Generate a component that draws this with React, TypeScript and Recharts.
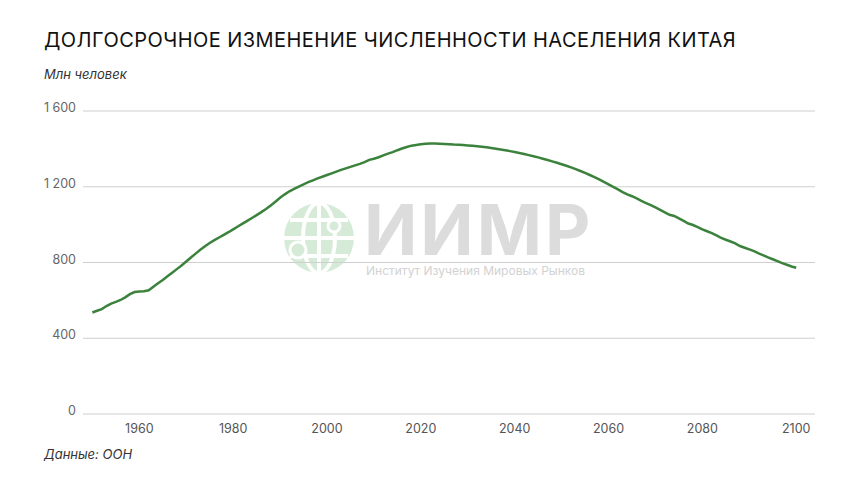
import {CartesianGrid, Line, LineChart, XAxis, YAxis} from "recharts";

const YEARS = [
  1950, 1951, 1952, 1953, 1954, 1955, 1956, 1957, 1958, 1959,
  1960, 1961, 1962, 1963, 1964, 1965, 1966, 1967, 1968, 1969,
  1970, 1971, 1972, 1973, 1974, 1975, 1976, 1977, 1978, 1979,
  1980, 1981, 1982, 1983, 1984, 1985, 1986, 1987, 1988, 1989,
  1990, 1991, 1992, 1993, 1994, 1995, 1996, 1997, 1998, 1999,
  2000, 2001, 2002, 2003, 2004, 2005, 2006, 2007, 2008, 2009,
  2010, 2011, 2012, 2013, 2014, 2015, 2016, 2017, 2018, 2019,
  2020, 2021, 2022, 2023, 2024, 2025, 2026, 2027, 2028, 2029,
  2030, 2031, 2032, 2033, 2034, 2035, 2036, 2037, 2038, 2039,
  2040, 2041, 2042, 2043, 2044, 2045, 2046, 2047, 2048, 2049,
  2050, 2051, 2052, 2053, 2054, 2055, 2056, 2057, 2058, 2059,
  2060, 2061, 2062, 2063, 2064, 2065, 2066, 2067, 2068, 2069,
  2070, 2071, 2072, 2073, 2074, 2075, 2076, 2077, 2078, 2079,
  2080, 2081, 2082, 2083, 2084, 2085, 2086, 2087, 2088, 2089,
  2090, 2091, 2092, 2093, 2094, 2095, 2096, 2097, 2098, 2099,
  2100,
];

// млн человек
const POPULATION = [
  536, 545, 554, 570, 583, 592, 602, 616, 633, 644,
  647, 648, 653, 672, 690, 708, 727, 746, 765, 784,
  805, 826, 847, 867, 886, 903, 918, 932, 946, 960,
  975, 990, 1005, 1020, 1035, 1050, 1066, 1083, 1101, 1121,
  1142, 1160, 1176, 1189, 1201, 1213, 1224, 1234, 1244, 1253,
  1262, 1271, 1280, 1289, 1297, 1305, 1313, 1321, 1330, 1342,
  1348, 1356, 1366, 1375, 1383, 1393, 1402, 1410, 1417, 1421,
  1424, 1427, 1428, 1428, 1427, 1426, 1425, 1423, 1422, 1420,
  1418, 1416, 1414, 1411, 1408, 1405, 1401, 1397, 1393, 1388,
  1383, 1378, 1373, 1367, 1361, 1355, 1348, 1341, 1334, 1327,
  1319, 1311, 1302, 1293, 1283, 1273, 1262, 1251, 1239, 1226,
  1213, 1199, 1186, 1172, 1160, 1150, 1138, 1125, 1114, 1103,
  1091, 1078, 1065, 1052, 1046, 1033, 1020, 1006, 998, 987,
  975, 965, 955, 943, 930, 920, 911, 901, 887, 878,
  869, 860, 848, 838, 827, 817, 807, 797, 788, 779,
  772,
];

const X_TICKS = [1960, 1980, 2000, 2020, 2040, 2060, 2080, 2100];
const Y_TICKS = [0, 400, 800, 1200, 1600];

const TITLE = "Долгосрочное изменение численности населения Китая";
const UNIT = "Млн человек";
const SOURCE = "Данные: ООН";

const FONT = "Inter, 'Noto Sans', sans-serif";
const LINE_COLOR = "#3b823c";

const data = YEARS.map((year, i) => ({year, value: POPULATION[i]}));

const fmt = (v: number) => v >= 1000 ? `${Math.floor(v / 1000)} ${String(v % 1000).padStart(3, "0")}` : String(v);

const YTick = ({x, y, payload}: any) =>
  <text x={x - 7} y={y + 1} textAnchor="end" fill="#666" fontSize={12.5} fontFamily={FONT}>
    {fmt(payload.value)}
  </text>;

const XTick = ({x, y, payload}: any) =>
  <text x={x} y={y + 19} textAnchor="middle" fill="#555" fontSize={12.5} fontFamily={FONT}>
    {payload.value}
  </text>;

const Watermark = () =>
  <svg width={860} height={484} style={{position: "absolute", left: 0, top: 0}}>
    <g>
      <circle cx={319} cy={238} r={35} fill="#d6ebd7"/>
      <line x1={319} y1={203} x2={319} y2={273} stroke="#fff" strokeWidth={4}/>
      <line x1={284} y1={238} x2={354} y2={238} stroke="#fff" strokeWidth={4}/>
      <ellipse cx={319} cy={238} rx={16} ry={35} fill="none" stroke="#fff" strokeWidth={4}/>
      <line x1={290} y1={220} x2={348} y2={220} stroke="#fff" strokeWidth={4}/>
      <line x1={290} y1={256} x2={348} y2={256} stroke="#fff" strokeWidth={4}/>
      <circle cx={334} cy={226} r={6} fill="#d6ebd7" stroke="#fff" strokeWidth={3}/>
      <circle cx={298} cy={250} r={8} fill="#d6ebd7" stroke="#fff" strokeWidth={3}/>
    </g>
    <text x={364} y={255} fill="#dcdcdc" fontSize={70} fontWeight={700} letterSpacing={3}
          fontFamily={FONT}>ИИМР</text>
    <text x={366} y={275} fill="#d2d2d2" fontSize={12} fontFamily={FONT}>Институт Изучения Мировых Рынков</text>
  </svg>;

export default function App() {
  return <div style={{position: "absolute", left: 0, top: 0, width: 860, height: 484, background: "#fff", fontFamily: FONT}}>
    <Watermark/>
    <div style={{
      position: "absolute", left: 44, top: 28, fontSize: 20, lineHeight: "24px", color: "#111",
      textTransform: "uppercase", letterSpacing: 0.45, whiteSpace: "nowrap"
    }}>{TITLE}</div>
    <div style={{position: "absolute", left: 44, top: 66, fontSize: 13, fontStyle: "italic", color: "#333"}}>{UNIT}</div>
    <div style={{position: "absolute", left: 44, top: 446, fontSize: 13, fontStyle: "italic", color: "#333"}}>{SOURCE}</div>
    <div style={{position: "absolute", left: 0, top: 0}}>
      <LineChart width={860} height={484} data={data} margin={{top: 111, right: 45, bottom: 40, left: 43}}>
        <CartesianGrid horizontal vertical={false} stroke="#cfcfcf" strokeWidth={1}/>
        <XAxis dataKey="year" type="number" domain={[1948, 2104]} ticks={X_TICKS} axisLine={false}
               tickLine={false} tickSize={0} tickMargin={0} height={30} tick={<XTick/>} interval={0}/>
        <YAxis type="number" domain={[0, 1600]} ticks={Y_TICKS} axisLine={false} tickLine={false}
               tickSize={0} tickMargin={0} width={40} tick={<YTick/>} interval={0}/>
        <Line type="linear" dataKey="value" stroke={LINE_COLOR} strokeWidth={2.5} dot={false}
              activeDot={false} isAnimationActive={false}/>
      </LineChart>
    </div>
  </div>;
}
